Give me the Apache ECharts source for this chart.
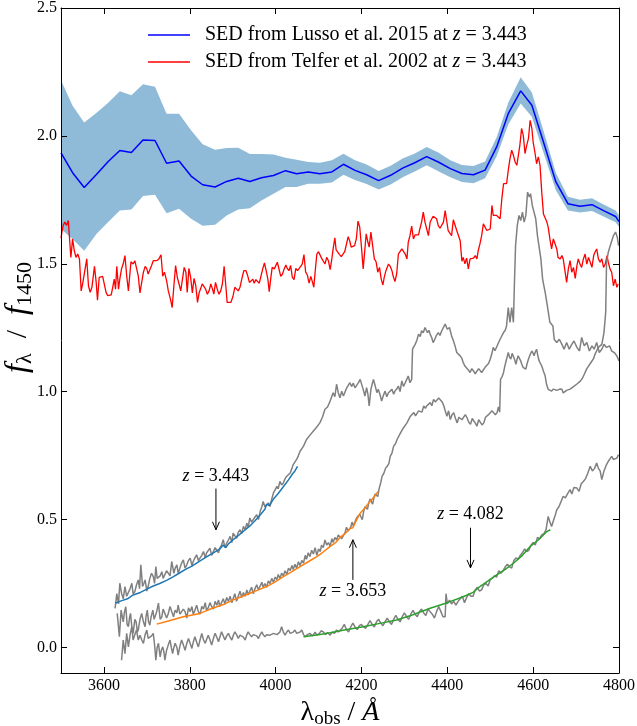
<!DOCTYPE html>
<html>
<head>
<meta charset="utf-8">
<script src="https://cdn.jsdelivr.net/npm/echarts@6/dist/echarts.min.js"></script>
<style>html,body{margin:0;padding:0;background:#fff}#c{width:637px;height:726px}</style>
</head>
<body>
<div id="c"></div>
<script>
// ---------- data ----------
const xTicks = [3600, 3800, 4000, 4200, 4400, 4600, 4800];
const yTicks = [0.0, 0.5, 1.0, 1.5, 2.0, 2.5];
const xRange = [3500, 4800];
const yRange = [-0.1, 2.5];
const lussoName = 'SED from Lusso et al. 2015 at z = 3.443';
const telferName = 'SED from Telfer et al. 2002 at z = 3.443';

// Lusso SED: wavelength, mean, lower and upper envelope
const sedWave = [3500,3527,3554,3583,3610,3637,3664,3691,3719,3746,3775,3803,3830,3859,3886,3913,3940,3967,3995,4023,4049,4076,4103,4131,4158,4185,4212,4240,4268,4296,4323,4352,4379,4407,4434,4461,4488,4515,4542,4571,4597,4624,4653,4681,4709,4737,4764,4792,4800];
const sedMid = [1.934,1.856,1.798,1.850,1.900,1.943,1.935,1.984,1.982,1.893,1.902,1.843,1.809,1.800,1.822,1.834,1.822,1.836,1.845,1.864,1.852,1.859,1.852,1.859,1.889,1.865,1.848,1.825,1.846,1.874,1.894,1.919,1.898,1.872,1.853,1.848,1.866,1.957,2.087,2.176,2.120,1.976,1.820,1.735,1.725,1.731,1.708,1.685,1.665];
const sedHi = [2.218,2.118,2.052,2.090,2.130,2.175,2.159,2.202,2.192,2.087,2.087,2.022,1.967,1.946,1.953,1.954,1.929,1.929,1.927,1.915,1.907,1.898,1.895,1.905,1.930,1.905,1.888,1.863,1.883,1.912,1.930,1.957,1.935,1.905,1.886,1.882,1.900,1.995,2.130,2.229,2.170,2.020,1.855,1.762,1.750,1.756,1.732,1.708,1.690];
const sedLo = [1.636,1.597,1.551,1.617,1.663,1.708,1.712,1.765,1.770,1.698,1.715,1.676,1.649,1.653,1.689,1.712,1.717,1.747,1.774,1.800,1.800,1.813,1.813,1.818,1.848,1.828,1.812,1.790,1.810,1.838,1.860,1.885,1.862,1.838,1.820,1.815,1.834,1.920,2.045,2.127,2.075,1.935,1.787,1.708,1.700,1.706,1.685,1.662,1.645];

// Telfer composite [wavelength, flux]
const telferSpec = [[3500,1.60],[3502,1.623],[3505,1.65],[3509,1.663],[3513,1.65],[3517,1.669],[3521,1.663],[3523,1.525],[3527,1.597],[3531,1.551],[3535,1.525],[3539,1.538],[3543,1.519],[3547,1.394],[3551,1.427],[3554,1.427],[3560,1.519],[3564,1.414],[3568,1.388],[3572,1.408],[3578,1.49],[3582,1.427],[3585,1.358],[3589,1.447],[3593,1.44],[3597,1.451],[3601,1.447],[3605,1.388],[3609,1.375],[3613,1.369],[3617,1.378],[3620,1.404],[3624,1.44],[3627,1.401],[3630,1.49],[3634,1.401],[3637,1.44],[3641,1.48],[3645,1.5],[3649,1.532],[3653,1.453],[3657,1.394],[3663,1.508],[3668,1.499],[3672,1.512],[3676,1.506],[3680,1.453],[3684,1.386],[3688,1.427],[3692,1.467],[3696,1.49],[3700,1.48],[3703,1.46],[3707,1.467],[3711,1.493],[3715,1.512],[3719,1.506],[3723,1.512],[3728,1.519],[3733,1.535],[3737,1.451],[3741,1.467],[3746,1.434],[3750,1.394],[3755,1.362],[3759,1.329],[3763,1.414],[3767,1.493],[3771,1.447],[3775,1.421],[3779,1.394],[3783,1.44],[3787,1.486],[3791,1.467],[3794,1.388],[3798,1.482],[3802,1.447],[3806,1.386],[3810,1.443],[3814,1.414],[3818,1.349],[3822,1.388],[3825,1.401],[3829,1.421],[3833,1.417],[3837,1.401],[3841,1.381],[3845,1.394],[3849,1.421],[3853,1.401],[3856,1.381],[3860,1.427],[3864,1.401],[3868,1.381],[3872,1.394],[3876,1.421],[3880,1.49],[3884,1.414],[3887,1.349],[3891,1.342],[3896,1.349],[3901,1.375],[3905,1.408],[3909,1.412],[3913,1.394],[3917,1.408],[3922,1.447],[3926,1.473],[3931,1.473],[3935,1.453],[3939,1.427],[3943,1.434],[3947,1.44],[3950,1.424],[3954,1.438],[3958,1.443],[3962,1.424],[3966,1.453],[3970,1.48],[3974,1.503],[3978,1.473],[3982,1.44],[3985,1.391],[3989,1.447],[3992,1.486],[3997,1.48],[4000,1.486],[4004,1.506],[4008,1.508],[4012,1.451],[4016,1.46],[4020,1.48],[4024,1.495],[4027,1.482],[4031,1.473],[4035,1.493],[4039,1.447],[4043,1.438],[4047,1.482],[4051,1.473],[4055,1.482],[4059,1.48],[4062,1.499],[4066,1.536],[4070,1.467],[4074,1.456],[4078,1.424],[4082,1.451],[4086,1.427],[4089,1.408],[4092,1.467],[4096,1.538],[4100,1.547],[4103,1.545],[4107,1.522],[4111,1.519],[4115,1.499],[4119,1.525],[4123,1.512],[4127,1.477],[4131,1.519],[4134,1.558],[4138,1.601],[4141,1.554],[4145,1.549],[4149,1.536],[4153,1.528],[4157,1.532],[4161,1.547],[4165,1.551],[4169,1.606],[4173,1.587],[4176,1.565],[4180,1.561],[4184,1.571],[4188,1.597],[4192,1.667],[4196,1.643],[4200,1.565],[4204,1.48],[4208,1.558],[4211,1.617],[4215,1.584],[4218,1.565],[4222,1.624],[4226,1.571],[4230,1.519],[4234,1.508],[4238,1.467],[4242,1.486],[4246,1.44],[4250,1.417],[4253,1.447],[4257,1.473],[4263,1.499],[4267,1.49],[4271,1.473],[4274,1.451],[4278,1.43],[4282,1.46],[4286,1.538],[4290,1.542],[4294,1.558],[4298,1.551],[4302,1.538],[4306,1.519],[4309,1.584],[4313,1.61],[4317,1.647],[4321,1.597],[4325,1.613],[4329,1.61],[4333,1.613],[4336,1.636],[4340,1.663],[4344,1.702],[4348,1.663],[4352,1.636],[4356,1.61],[4360,1.663],[4364,1.669],[4367,1.686],[4371,1.682],[4375,1.676],[4379,1.649],[4383,1.639],[4387,1.639],[4391,1.663],[4395,1.708],[4399,1.712],[4402,1.63],[4406,1.62],[4410,1.61],[4414,1.672],[4418,1.668],[4422,1.63],[4426,1.624],[4430,1.59],[4434,1.51],[4437,1.525],[4441,1.5],[4445,1.522],[4449,1.48],[4453,1.519],[4457,1.512],[4461,1.522],[4465,1.532],[4469,1.519],[4472,1.551],[4476,1.578],[4480,1.61],[4484,1.656],[4488,1.649],[4492,1.63],[4496,1.624],[4500,1.636],[4504,1.728],[4507,1.689],[4511,1.695],[4515,1.689],[4519,1.695],[4523,1.676],[4527,1.754],[4531,1.813],[4535,1.82],[4538,1.813],[4542,1.865],[4546,1.911],[4550,1.944],[4554,1.924],[4558,1.898],[4562,1.885],[4566,1.878],[4569,1.963],[4573,2.029],[4577,2.002],[4581,1.931],[4585,1.963],[4589,1.989],[4593,2.061],[4597,2.029],[4600,1.976],[4604,1.937],[4608,1.891],[4612,1.918],[4616,1.885],[4620,1.78],[4624,1.695],[4628,1.689],[4632,1.663],[4635,1.643],[4639,1.597],[4643,1.558],[4647,1.597],[4651,1.578],[4655,1.558],[4658,1.525],[4663,1.519],[4667,1.532],[4670,1.519],[4674,1.519],[4678,1.427],[4682,1.48],[4686,1.512],[4690,1.467],[4694,1.486],[4698,1.443],[4702,1.493],[4705,1.519],[4709,1.499],[4713,1.486],[4717,1.519],[4721,1.538],[4725,1.499],[4729,1.525],[4733,1.506],[4737,1.486],[4741,1.532],[4744,1.545],[4748,1.558],[4752,1.519],[4756,1.506],[4760,1.519],[4764,1.486],[4768,1.499],[4772,1.532],[4775,1.506],[4779,1.48],[4783,1.467],[4787,1.414],[4791,1.44],[4795,1.408],[4798,1.421]];

// observed spectra (gray)
const spec3443 = [[3626,0.153],[3630,0.21],[3634,0.17],[3637,0.251],[3641,0.212],[3645,0.19],[3649,0.238],[3653,0.2],[3657,0.198],[3661,0.23],[3665,0.251],[3668,0.21],[3672,0.218],[3676,0.245],[3680,0.264],[3683,0.23],[3686,0.323],[3690,0.238],[3693,0.25],[3696,0.264],[3700,0.22],[3703,0.238],[3707,0.27],[3711,0.29],[3715,0.277],[3718,0.25],[3721,0.316],[3724,0.27],[3727,0.264],[3731,0.28],[3735,0.296],[3738,0.27],[3742,0.277],[3746,0.3],[3750,0.303],[3754,0.28],[3758,0.336],[3763,0.29],[3766,0.31],[3770,0.323],[3773,0.29],[3777,0.31],[3781,0.33],[3785,0.342],[3789,0.31],[3793,0.323],[3797,0.34],[3801,0.349],[3805,0.32],[3808,0.336],[3812,0.35],[3816,0.362],[3820,0.34],[3824,0.336],[3828,0.36],[3832,0.375],[3836,0.35],[3839,0.369],[3843,0.37],[3847,0.388],[3851,0.36],[3855,0.375],[3859,0.39],[3863,0.395],[3867,0.37],[3870,0.388],[3874,0.4],[3878,0.421],[3882,0.39],[3886,0.408],[3890,0.42],[3894,0.434],[3898,0.41],[3901,0.447],[3905,0.44],[3909,0.427],[3913,0.45],[3917,0.46],[3921,0.445],[3925,0.473],[3929,0.46],[3933,0.486],[3936,0.47],[3940,0.506],[3944,0.49],[3948,0.493],[3952,0.51],[3956,0.519],[3960,0.5],[3964,0.532],[3968,0.55],[3971,0.571],[3975,0.55],[3979,0.551],[3983,0.565],[3987,0.551],[3991,0.58],[3995,0.604],[3999,0.61],[4003,0.63],[4006,0.62],[4010,0.649],[4014,0.635],[4018,0.643],[4022,0.66],[4026,0.669],[4030,0.67],[4034,0.682],[4038,0.7],[4041,0.715],[4045,0.72],[4049,0.735],[4053,0.75],[4057,0.767],[4061,0.76],[4065,0.787],[4069,0.79],[4072,0.813],[4080,0.83],[4088,0.846],[4095,0.86],[4103,0.878],[4109,0.9],[4115,0.931],[4121,0.94],[4127,0.963],[4134,0.996],[4138,0.98],[4142,1.029],[4146,0.996],[4150,0.976],[4154,1.002],[4158,0.983],[4162,1.0],[4166,1.016],[4170,1.01],[4173,1.035],[4177,1.02],[4181,1.033],[4185,1.015],[4189,1.022],[4193,1.035],[4197,1.048],[4201,1.042],[4204,1.009],[4208,0.983],[4212,1.016],[4215,0.99],[4218,0.944],[4222,1.009],[4225,1.03],[4228,1.048],[4232,1.022],[4236,0.996],[4239,1.009],[4243,0.99],[4247,0.963],[4251,0.985],[4255,1.002],[4259,0.98],[4263,0.996],[4267,1.0],[4271,1.009],[4275,0.99],[4278,1.002],[4282,1.01],[4286,1.022],[4290,1.0],[4294,1.042],[4298,1.02],[4302,1.035],[4306,1.05],[4309,1.061],[4313,1.035],[4317,1.048],[4319,1.166],[4322,1.17],[4325,1.185],[4329,1.2],[4333,1.225],[4337,1.215],[4340,1.238],[4344,1.23],[4348,1.251],[4351,1.24],[4354,1.231],[4357,1.24],[4360,1.225],[4364,1.21],[4367,1.192],[4371,1.205],[4374,1.218],[4379,1.231],[4383,1.22],[4387,1.238],[4391,1.245],[4395,1.264],[4400,1.244],[4405,1.251],[4410,1.218],[4414,1.2],[4418,1.179],[4422,1.153],[4426,1.15],[4430,1.14],[4434,1.13],[4437,1.114],[4441,1.1],[4445,1.094],[4449,1.085],[4453,1.075],[4457,1.09],[4461,1.081],[4465,1.07],[4469,1.075],[4473,1.09],[4476,1.088],[4480,1.075],[4484,1.081],[4488,1.095],[4492,1.1],[4496,1.11],[4500,1.127],[4504,1.15],[4507,1.173],[4511,1.16],[4515,1.153],[4519,1.19],[4523,1.205],[4527,1.21],[4531,1.231],[4535,1.24],[4538,1.257],[4542,1.329],[4546,1.271],[4550,1.329],[4554,1.271],[4556,1.401],[4559,1.571],[4563,1.649],[4567,1.689],[4571,1.669],[4575,1.702],[4579,1.663],[4583,1.689],[4587,1.78],[4591,1.761],[4594,1.774],[4598,1.728],[4602,1.702],[4606,1.676],[4610,1.61],[4614,1.604],[4618,1.519],[4622,1.44],[4628,1.388],[4633,1.336],[4639,1.271],[4646,1.257],[4649,1.205],[4655,1.192],[4661,1.205],[4667,1.185],[4672,1.166],[4678,1.192],[4684,1.166],[4690,1.185],[4695,1.198],[4702,1.173],[4708,1.159],[4713,1.212],[4719,1.179],[4725,1.192],[4731,1.159],[4737,1.179],[4742,1.166],[4748,1.192],[4754,1.153],[4760,1.166],[4765,1.185],[4771,1.173],[4778,1.179],[4783,1.159],[4789,1.153],[4795,1.14],[4800,1.12]];

const spec3653 = [[3631,0.133],[3636,0.042],[3640,0.146],[3645,0.1],[3648,0.14],[3651,0.159],[3654,0.09],[3657,0.081],[3660,0.12],[3662,0.133],[3665,0.08],[3668,0.055],[3672,0.11],[3675,0.1],[3678,0.06],[3680,0.068],[3684,0.11],[3688,0.133],[3692,0.1],[3696,0.081],[3698,0.12],[3701,0.146],[3704,0.1],[3707,0.087],[3710,0.12],[3714,0.146],[3717,0.11],[3719,0.107],[3723,0.14],[3727,0.173],[3731,0.11],[3735,0.12],[3738,0.15],[3742,0.153],[3746,0.115],[3750,0.133],[3754,0.16],[3758,0.14],[3762,0.12],[3766,0.146],[3770,0.135],[3773,0.165],[3777,0.13],[3781,0.125],[3785,0.15],[3789,0.14],[3793,0.115],[3797,0.155],[3801,0.14],[3805,0.16],[3808,0.13],[3812,0.145],[3816,0.165],[3820,0.14],[3824,0.13],[3828,0.16],[3832,0.15],[3836,0.175],[3839,0.145],[3843,0.155],[3847,0.175],[3851,0.16],[3855,0.15],[3859,0.18],[3863,0.165],[3867,0.185],[3870,0.16],[3874,0.175],[3878,0.19],[3882,0.17],[3886,0.195],[3890,0.18],[3894,0.2],[3898,0.175],[3901,0.19],[3905,0.21],[3909,0.18],[3913,0.2],[3917,0.22],[3921,0.195],[3925,0.215],[3929,0.2],[3933,0.225],[3936,0.205],[3940,0.22],[3944,0.235],[3948,0.21],[3952,0.23],[3956,0.245],[3960,0.225],[3964,0.24],[3968,0.255],[3971,0.235],[3975,0.25],[3979,0.235],[3983,0.26],[3987,0.25],[3991,0.27],[3995,0.255],[3999,0.275],[4003,0.265],[4006,0.285],[4010,0.27],[4014,0.29],[4018,0.28],[4022,0.3],[4026,0.285],[4030,0.31],[4034,0.3],[4038,0.32],[4041,0.305],[4045,0.325],[4049,0.31],[4053,0.335],[4057,0.32],[4061,0.34],[4065,0.33],[4069,0.36],[4072,0.345],[4076,0.37],[4080,0.355],[4084,0.38],[4088,0.365],[4092,0.39],[4096,0.36],[4100,0.385],[4104,0.375],[4107,0.4],[4111,0.39],[4115,0.42],[4119,0.4],[4123,0.41],[4127,0.395],[4131,0.425],[4134,0.41],[4138,0.43],[4142,0.42],[4146,0.44],[4150,0.44],[4154,0.425],[4158,0.42],[4162,0.45],[4165,0.47],[4169,0.455],[4172,0.45],[4175,0.47],[4178,0.49],[4181,0.475],[4184,0.47],[4187,0.5],[4190,0.51],[4193,0.505],[4196,0.52],[4199,0.51],[4202,0.5],[4205,0.53],[4208,0.55],[4211,0.545],[4214,0.54],[4217,0.565],[4220,0.58],[4223,0.57],[4226,0.56],[4229,0.585],[4232,0.6],[4235,0.595],[4238,0.59],[4241,0.62],[4245,0.645],[4248,0.669],[4252,0.68],[4256,0.7],[4260,0.708],[4264,0.72],[4267,0.747],[4271,0.76],[4275,0.787],[4279,0.795],[4283,0.813],[4287,0.82],[4291,0.839],[4294,0.835],[4298,0.859],[4302,0.86],[4306,0.878],[4310,0.88],[4314,0.904],[4318,0.9],[4322,0.918],[4326,0.905],[4329,0.911],[4333,0.925],[4337,0.931],[4341,0.92],[4345,0.944],[4349,0.935],[4352,0.944],[4356,0.95],[4360,0.957],[4364,0.945],[4368,0.97],[4372,0.96],[4376,0.957],[4380,0.975],[4384,0.97],[4388,0.96],[4392,0.944],[4396,0.92],[4399,0.904],[4403,0.925],[4407,0.891],[4411,0.91],[4415,0.918],[4419,0.895],[4423,0.878],[4427,0.9],[4430,0.904],[4434,0.89],[4438,0.885],[4442,0.91],[4446,0.898],[4450,0.88],[4454,0.872],[4458,0.895],[4462,0.891],[4466,0.875],[4469,0.865],[4473,0.89],[4477,0.885],[4481,0.87],[4485,0.878],[4489,0.9],[4492,0.898],[4496,0.91],[4500,0.904],[4504,0.925],[4508,0.931],[4512,0.91],[4516,0.918],[4519,0.94],[4522,0.92],[4524,1.048],[4528,1.06],[4531,1.075],[4534,1.1],[4537,1.12],[4540,1.14],[4542,1.153],[4545,1.135],[4548,1.127],[4551,1.15],[4554,1.146],[4557,1.125],[4560,1.107],[4563,1.13],[4565,1.14],[4568,1.13],[4571,1.12],[4574,1.105],[4577,1.094],[4580,1.1],[4583,1.088],[4586,1.11],[4589,1.127],[4593,1.145],[4597,1.159],[4600,1.15],[4602,1.14],[4605,1.155],[4608,1.166],[4611,1.14],[4614,1.12],[4617,1.11],[4620,1.1],[4624,1.08],[4628,1.061],[4631,1.03],[4635,1.009],[4639,1.005],[4643,1.002],[4647,1.01],[4651,1.016],[4655,1.005],[4658,1.002],[4662,1.01],[4667,1.009],[4670,0.995],[4674,0.996],[4678,1.005],[4682,1.002],[4686,1.01],[4690,1.016],[4694,1.02],[4698,1.022],[4702,1.03],[4705,1.029],[4709,1.04],[4713,1.048],[4717,1.06],[4721,1.075],[4725,1.09],[4729,1.1],[4733,1.11],[4737,1.12],[4741,1.13],[4744,1.146],[4748,1.16],[4752,1.173],[4756,1.18],[4760,1.185],[4765,1.231],[4769,1.31],[4771,1.506],[4775,1.545],[4781,1.578],[4787,1.61],[4792,1.624],[4796,1.604],[4799,1.571]];

const spec4082 = [[3641,-0.05],[3645,0.029],[3649,-0.024],[3653,0.055],[3657,0.002],[3661,0.05],[3665,0.081],[3668,0.029],[3672,0.05],[3676,0.068],[3680,0.029],[3684,0.048],[3688,0.03],[3692,0.016],[3696,0.05],[3700,0.068],[3703,0.035],[3707,0.029],[3711,0.045],[3715,0.055],[3718,0.01],[3721,-0.05],[3724,0.0],[3727,0.016],[3731,-0.037],[3734,-0.01],[3737,0.002],[3740,-0.02],[3742,-0.05],[3746,-0.011],[3750,0.01],[3754,0.029],[3757,0.0],[3760,-0.024],[3763,0.0],[3766,0.016],[3770,0.0],[3773,-0.03],[3777,0.005],[3781,0.029],[3785,0.01],[3789,-0.011],[3793,0.015],[3797,0.035],[3801,0.015],[3805,-0.004],[3808,0.02],[3812,0.042],[3816,0.02],[3820,0.002],[3824,0.03],[3828,0.055],[3832,0.03],[3836,0.016],[3840,0.035],[3843,0.048],[3847,0.03],[3851,0.009],[3855,0.035],[3859,0.055],[3863,0.04],[3867,0.022],[3870,0.04],[3874,0.061],[3878,0.045],[3882,0.029],[3886,0.045],[3890,0.055],[3894,0.04],[3898,0.029],[3901,0.045],[3905,0.061],[3909,0.05],[3913,0.035],[3917,0.048],[3921,0.055],[3925,0.04],[3929,0.029],[3933,0.05],[3936,0.061],[3940,0.05],[3944,0.042],[3948,0.05],[3952,0.055],[3956,0.045],[3960,0.035],[3964,0.05],[3968,0.061],[3971,0.05],[3975,0.042],[3979,0.05],[3983,0.055],[3987,0.048],[3991,0.042],[3995,0.055],[3999,0.061],[4003,0.05],[4006,0.048],[4010,0.06],[4014,0.081],[4018,0.06],[4022,0.048],[4026,0.06],[4030,0.068],[4034,0.055],[4038,0.048],[4041,0.06],[4045,0.068],[4049,0.055],[4053,0.048],[4057,0.06],[4061,0.068],[4065,0.05],[4069,0.042],[4074,0.05],[4080,0.055],[4086,0.045],[4092,0.06],[4096,0.048],[4102,0.055],[4106,0.065],[4111,0.061],[4116,0.05],[4121,0.058],[4127,0.048],[4132,0.06],[4137,0.055],[4142,0.068],[4146,0.06],[4150,0.06],[4155,0.075],[4160,0.09],[4165,0.07],[4170,0.06],[4175,0.08],[4180,0.095],[4185,0.08],[4190,0.07],[4195,0.085],[4200,0.09],[4205,0.08],[4210,0.075],[4215,0.09],[4220,0.105],[4225,0.09],[4230,0.08],[4235,0.1],[4240,0.11],[4245,0.095],[4250,0.085],[4255,0.1],[4260,0.115],[4265,0.1],[4270,0.09],[4275,0.11],[4280,0.125],[4285,0.11],[4290,0.1],[4295,0.12],[4300,0.135],[4305,0.12],[4310,0.11],[4315,0.13],[4320,0.145],[4325,0.13],[4330,0.12],[4335,0.14],[4340,0.15],[4345,0.135],[4350,0.125],[4355,0.15],[4360,0.14],[4365,0.13],[4370,0.115],[4375,0.14],[4380,0.16],[4385,0.14],[4390,0.12],[4395,0.12],[4397,0.21],[4400,0.17],[4405,0.185],[4410,0.17],[4415,0.18],[4420,0.165],[4425,0.18],[4430,0.19],[4435,0.2],[4440,0.175],[4445,0.195],[4450,0.21],[4455,0.2],[4460,0.2],[4465,0.225],[4470,0.235],[4475,0.22],[4480,0.225],[4485,0.245],[4490,0.25],[4495,0.24],[4500,0.265],[4505,0.27],[4510,0.28],[4515,0.275],[4520,0.3],[4525,0.29],[4530,0.3],[4535,0.315],[4540,0.325],[4545,0.315],[4550,0.31],[4555,0.34],[4560,0.35],[4565,0.345],[4570,0.36],[4575,0.37],[4580,0.385],[4585,0.375],[4590,0.38],[4595,0.4],[4600,0.41],[4605,0.4],[4610,0.43],[4615,0.425],[4620,0.44],[4625,0.445],[4630,0.46],[4635,0.512],[4639,0.49],[4643,0.473],[4648,0.5],[4652,0.52],[4655,0.538],[4660,0.55],[4665,0.57],[4670,0.591],[4675,0.585],[4680,0.6],[4686,0.617],[4690,0.6],[4695,0.625],[4702,0.623],[4707,0.61],[4712,0.64],[4717,0.649],[4722,0.66],[4727,0.68],[4733,0.708],[4738,0.69],[4743,0.7],[4748,0.721],[4752,0.7],[4756,0.69],[4760,0.656],[4765,0.69],[4771,0.715],[4776,0.73],[4783,0.747],[4787,0.735],[4791,0.728],[4795,0.74],[4799,0.754]];

// model fits
const fit3443 = [[3626,0.173],[3640,0.182],[3655,0.19],[3668,0.205],[3685,0.215],[3700,0.228],[3715,0.24],[3730,0.25],[3746,0.262],[3760,0.275],[3775,0.29],[3790,0.305],[3805,0.318],[3824,0.338],[3840,0.355],[3855,0.37],[3870,0.385],[3878,0.40],[3884,0.39],[3890,0.405],[3901,0.421],[3915,0.44],[3928,0.458],[3940,0.475],[3952,0.495],[3965,0.52],[3975,0.54],[3979,0.56],[3985,0.555],[3995,0.58],[4005,0.60],[4018,0.628],[4030,0.655],[4040,0.68],[4045,0.69],[4051,0.708]];
const fit3653 = [[3723,0.091],[3750,0.103],[3785,0.12],[3824,0.133],[3845,0.148],[3863,0.159],[3882,0.17],[3901,0.186],[3920,0.198],[3940,0.212],[3960,0.225],[3979,0.238],[3998,0.255],[4018,0.277],[4038,0.296],[4057,0.316],[4076,0.335],[4096,0.355],[4110,0.372],[4127,0.395],[4140,0.41],[4150,0.43],[4162,0.445],[4173,0.465],[4180,0.468],[4186,0.49],[4197,0.525],[4208,0.545],[4220,0.571],[4230,0.59],[4239,0.61]];
const fit4082 = [[4065,0.042],[4100,0.05],[4127,0.057],[4160,0.068],[4204,0.081],[4240,0.093],[4282,0.107],[4320,0.128],[4360,0.153],[4400,0.175],[4437,0.198],[4460,0.215],[4476,0.238],[4495,0.26],[4515,0.284],[4535,0.305],[4554,0.329],[4575,0.36],[4593,0.395],[4612,0.42],[4632,0.453],[4640,0.46]];

// annotations: redshift label, wavelength, text height, arrow tail, arrow head
const annZ = ['3.443', '3.653', '4.082'];
const annX = [3861, 4180, 4454];
const annTextY = [0.669, 0.218, 0.519];
const annTailY = [0.621, 0.264, 0.468];
const annHeadY = [0.460, 0.421, 0.311];

// ---------- chart ----------
const SERIF = '"Liberation Serif", "DejaVu Serif", serif';
const chart = echarts.init(document.getElementById('c'), null, {renderer: 'canvas'});

const pairs = (xs, ys) => xs.map((x, i) => [x, ys[i]]);
const annData = annX.map((x, i) => [x, annTextY[i], annTailY[i], annHeadY[i]]);

const lineS = (name, data, color, width, z) => ({
  name, type: 'line', data, symbol: 'none', showSymbol: false, silent: true,
  lineStyle: {color, width}, itemStyle: {color}, z: z || 2, clip: true
});

const axisCommon = {
  type: 'value', splitLine: {show: false},
  axisLine: {show: true, onZero: false, lineStyle: {color: '#000', width: 1}},
};
const tickStyle = () => ({show: true, inside: true, length: 6, lineStyle: {color: '#000', width: 1}});
const legendIcon = 'path://M0,0 L42,0 L42,1.5 L0,1.5 Z';

const option = {
  animation: false,
  backgroundColor: '#fff',
  grid: {left: 61, right: 18, top: 8, bottom: 53, containLabel: false, outerBoundsMode: 'none'},
  legend: {
    orient: 'vertical', left: 148, top: 25, padding: 0,
    itemWidth: 42, itemHeight: 1.5, itemGap: 7,
    data: [{name: lussoName, icon: legendIcon}, {name: telferName, icon: legendIcon}],
    formatter: n => n.replace('z = ', '{i|z} = '),
    textStyle: {fontFamily: SERIF, fontSize: 20, color: '#000', lineHeight: 20, padding: [0, 0, 0, 10],
      rich: {i: {fontFamily: SERIF, fontSize: 20, fontStyle: 'italic', color: '#000', lineHeight: 20}}}
  },
  xAxis: [
    Object.assign({}, axisCommon, {
      min: xRange[0], max: xRange[1], splitNumber: 6, position: 'bottom', z: 6,
      axisTick: tickStyle(),
      axisLabel: {show: true, customValues: xTicks, formatter: v => String(v), fontFamily: SERIF, fontSize: 16, color: '#000', margin: 5},
      name: '{l|λ}{s|obs}{t| / }{a|Å}', nameLocation: 'middle', nameGap: 22,
      nameTextStyle: {rich: {
        l: {fontFamily: SERIF, fontSize: 28, color: '#000', lineHeight: 32},
        s: {fontFamily: SERIF, fontSize: 19, color: '#000', lineHeight: 19, verticalAlign: 'bottom'},
        t: {fontFamily: SERIF, fontSize: 28, color: '#000', lineHeight: 32},
        a: {fontFamily: SERIF, fontSize: 28, fontStyle: 'italic', color: '#000', lineHeight: 32}
      }}
    }),
    Object.assign({}, axisCommon, {
      min: xRange[0], max: xRange[1], splitNumber: 6, position: 'top', z: 6,
      axisTick: tickStyle(), axisLabel: {show: false}
    })
  ],
  yAxis: [
    Object.assign({}, axisCommon, {
      min: yRange[0], max: yRange[1], splitNumber: 5, position: 'left', z: 6,
      axisTick: tickStyle(),
      axisLabel: {show: true, customValues: yTicks, formatter: v => Number(v).toFixed(1), fontFamily: SERIF, fontSize: 16, color: '#000', margin: 4},
      name: '{i|f}{s|λ}{t|  /  }{i|f}{s|1450}', nameLocation: 'middle', nameGap: 25, nameRotate: 90,
      nameMoveOverlap: false,
      nameTextStyle: {padding: [0, 0, 0, 46], rich: {
        i: {fontFamily: SERIF, fontSize: 32, fontStyle: 'italic', color: '#000', lineHeight: 36},
        s: {fontFamily: SERIF, fontSize: 22, color: '#000', lineHeight: 22, verticalAlign: 'bottom'},
        t: {fontFamily: SERIF, fontSize: 30, color: '#000', lineHeight: 36}
      }}
    }),
    Object.assign({}, axisCommon, {
      min: yRange[0], max: yRange[1], splitNumber: 5, position: 'right', z: 6,
      axisTick: tickStyle(), axisLabel: {show: false}
    })
  ],
  series: [
    {
      name: 'sedBand', type: 'custom', data: [0], z: 1, silent: true, clip: true,
      renderItem: (params, api) => {
        const up = sedWave.map((w, i) => api.coord([w, sedHi[i]]));
        const dn = sedWave.map((w, i) => api.coord([w, sedLo[i]])).reverse();
        return {type: 'polygon', shape: {points: up.concat(dn)}, style: {fill: '#8fbbd9', stroke: null}};
      }
    },
    lineS(lussoName, pairs(sedWave, sedMid), '#0000ff', 1.5, 3),
    lineS(telferName, telferSpec, '#ff0000', 1.3, 3),
    lineS('obs3443', spec3443, '#808080', 1.5, 3),
    lineS('obs3653', spec3653, '#808080', 1.5, 3),
    lineS('obs4082', spec4082, '#808080', 1.5, 3),
    lineS('fit3443', fit3443, '#1f77b4', 1.5, 4),
    lineS('fit3653', fit3653, '#ff7f0e', 1.5, 4),
    lineS('fit4082', fit4082, '#2ca02c', 1.5, 4),
    {
      name: 'annotations', type: 'custom', data: annData, z: 5, silent: true,
      renderItem: (params, api) => {
        const x = api.value(0);
        const pt = api.coord([x, api.value(1)]);
        const p0 = api.coord([x, api.value(2)]);
        const p1 = api.coord([x, api.value(3)]);
        const d = p1[1] > p0[1] ? 1 : -1;
        return {type: 'group', children: [
          {type: 'line', shape: {x1: p0[0], y1: p0[1], x2: p1[0], y2: p1[1]}, style: {stroke: '#000', lineWidth: 1}},
          {type: 'polyline', shape: {points: [[p1[0] - 3.5, p1[1] - d * 8], [p1[0], p1[1]], [p1[0] + 3.5, p1[1] - d * 8]]},
            style: {stroke: '#000', fill: null, lineWidth: 1}},
          {type: 'text', x: pt[0], y: pt[1], style: {
            text: '{i|z} = ' + annZ[params.dataIndex], align: 'center', verticalAlign: 'middle',
            fontFamily: SERIF, fontSize: 18, fill: '#000',
            rich: {i: {fontFamily: SERIF, fontSize: 18, fontStyle: 'italic', fill: '#000'}}
          }}
        ]};
      }
    }
  ]
};
chart.setOption(option);
</script>
</body>
</html>
